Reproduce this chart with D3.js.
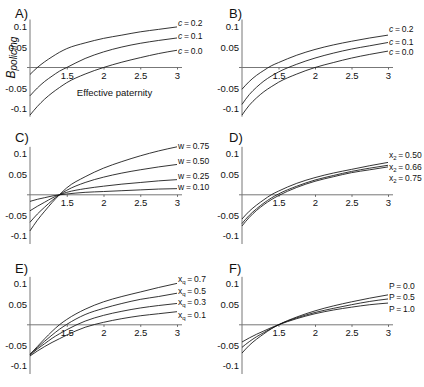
<!DOCTYPE html>
<html>
<head>
<meta charset="utf-8">
<script src="https://cdn.jsdelivr.net/npm/d3@7"></script>
<style>
  body { margin: 0; background: #fff; }
  svg text { font-family: "Liberation Sans", Arial, Helvetica, sans-serif; fill: #111; }
</style>
</head>
<body>
<svg id="svg" width="424" height="387"></svg>
<script>
var pat = [1, 1.1, 1.2, 1.3, 1.4, 1.5, 1.75, 2, 2.25, 2.5, 2.75, 3];
var xTickVals = [1.5, 2, 2.5, 3];
var yTickVals = [-0.1, -0.05, 0.05, 0.1];

// A) and B): c = 0.2, 0.1, 0.0
var cLabels = ["0.2", "0.1", "0.0"];
var seriesA = [
    [-0.017, 0, 0.014, 0.026, 0.037, 0.046, 0.060, 0.071, 0.079, 0.087, 0.093, 0.099],
    [-0.069, -0.050, -0.034, -0.021, -0.009, 0, 0.022, 0.038, 0.050, 0.059, 0.066, 0.072],
    [-0.116, -0.095, -0.077, -0.062, -0.049, -0.037, -0.016, 0, 0.013, 0.024, 0.034, 0.042]
];
var seriesB = [
    [-0.053, -0.034, -0.019, -0.007, 0.004, 0.012, 0.030, 0.044, 0.055, 0.064, 0.072, 0.079],
    [-0.090, -0.066, -0.048, -0.033, -0.021, -0.011, 0.008, 0.023, 0.035, 0.045, 0.053, 0.061],
    [-0.116, -0.092, -0.074, -0.059, -0.047, -0.036, -0.016, 0, 0.012, 0.023, 0.032, 0.040]
];

// C): w = 0.75 .. 0.10
var wLabels = ["0.75", "0.50", "0.25", "0.10"];
var seriesC = [
    [-0.088, -0.062, -0.040, -0.019, 0, 0.017, 0.044, 0.065, 0.081, 0.095, 0.107, 0.117],
    [-0.067, -0.047, -0.030, -0.014, 0, 0.011, 0.030, 0.043, 0.053, 0.061, 0.068, 0.074],
    [-0.039, -0.028, -0.018, -0.008, 0, 0.006, 0.015, 0.021, 0.026, 0.030, 0.034, 0.037],
    [-0.016, -0.011, -0.007, -0.003, 0, 0.002, 0.006, 0.008, 0.010, 0.012, 0.014, 0.015]
];

// D): x2 = 0.50, 0.66, 0.75
var x2Labels = ["0.50", "0.66", "0.75"];
var seriesD = [
    [-0.059, -0.040, -0.025, -0.012, 0, 0.009, 0.028, 0.042, 0.053, 0.062, 0.071, 0.079],
    [-0.070, -0.050, -0.034, -0.020, -0.008, 0.002, 0.021, 0.036, 0.047, 0.057, 0.065, 0.072],
    [-0.076, -0.055, -0.038, -0.024, -0.012, -0.002, 0.018, 0.033, 0.044, 0.054, 0.061, 0.068]
];

// E): xq = 0.7 .. 0.1
var xqLabels = ["0.7", "0.5", "0.3", "0.1"];
var seriesE = [
    [-0.072, -0.053, -0.034, -0.016, 0, 0.013, 0.038, 0.056, 0.069, 0.080, 0.091, 0.101],
    [-0.072, -0.056, -0.040, -0.025, -0.011, 0.001, 0.025, 0.040, 0.052, 0.062, 0.069, 0.077],
    [-0.074, -0.059, -0.046, -0.033, -0.022, -0.012, 0.009, 0.023, 0.033, 0.041, 0.047, 0.052],
    [-0.076, -0.064, -0.053, -0.043, -0.034, -0.025, -0.006, 0.006, 0.015, 0.022, 0.027, 0.032]
];

// F): P = 0.0, 0.5, 1.0
var pLabels = ["0.0", "0.5", "1.0"];
var seriesF = [
    [-0.069, -0.050, -0.035, -0.022, -0.010, 0, 0.019, 0.034, 0.046, 0.056, 0.065, 0.073],
    [-0.055, -0.041, -0.029, -0.019, -0.009, 0, 0.017, 0.030, 0.040, 0.049, 0.057, 0.063],
    [-0.042, -0.032, -0.023, -0.015, -0.007, 0, 0.015, 0.027, 0.036, 0.043, 0.049, 0.053]
];

var svg = d3.select("#svg");

// layout
var colRange = [[30, 177], [242, 388]],
    rowZero = [67.5, 194.8, 324.8],
    letterX = [15, 229],
    letterY = [18, 142, 273],
    pxPerUnit = 410,
    yDomain = [-0.12, 0.117];

var panels = [
    { name: "A)", col: 0, row: 0, sym: "c", italic: true, labels: cLabels, vals: seriesA, dy: [-3.4, -1.8, 0.6], xlab: true },
    { name: "B)", col: 1, row: 0, sym: "c", italic: true, labels: cLabels, vals: seriesB, dy: [-5.6, -0.6, 1.4] },
    { name: "C)", col: 0, row: 1, sym: "w", labels: wLabels, vals: seriesC, dy: [-1.2, -3.3, -3.3, -1.3] },
    { name: "D)", col: 1, row: 1, sym: "x", sub: "2", labels: x2Labels, vals: seriesD, dy: [-7, 1.7, 11] },
    { name: "E)", col: 0, row: 2, sym: "x", sub: "q", labels: xqLabels, vals: seriesE, dy: [-4, -2, -1, 3.6] },
    { name: "F)", col: 1, row: 2, sym: "P", labels: pLabels, vals: seriesF, dy: [-8.6, -1.8, 6.4] }
];

panels.forEach(function (p) {
    var zero = rowZero[p.row];
    var x = d3.scaleLinear().domain([1, 3]).range(colRange[p.col]);
    var y = d3.scaleLinear().domain(yDomain)
        .range([zero - yDomain[0] * pxPerUnit, zero - yDomain[1] * pxPerUnit]);

    var g = svg.append("g");

    // x axis
    g.append("line")
        .attr("x1", x(1) - 3).attr("x2", x(3) + 5)
        .attr("y1", y(0)).attr("y2", y(0))
        .attr("stroke", "#777").attr("stroke-width", 1);
    var xa = g.append("g")
        .attr("transform", "translate(0," + y(0) + ")")
        .call(d3.axisBottom(x).tickValues(xTickVals).tickSize(2).tickPadding(2.5)
            .tickFormat(function (d) { return String(d); }));
    xa.select(".domain").remove();

    // y axis
    g.append("line")
        .attr("x1", x(1)).attr("x2", x(1))
        .attr("y1", y(yDomain[1])).attr("y2", y(yDomain[0]))
        .attr("stroke", "#777").attr("stroke-width", 1);
    var ya = g.append("g")
        .attr("transform", "translate(" + x(1) + ",0)")
        .call(d3.axisLeft(y).tickValues(yTickVals).tickSize(0).tickPadding(3)
            .tickFormat(function (d) { return String(d); }));
    ya.select(".domain").remove();

    g.selectAll(".tick line").attr("stroke", "#666");
    g.selectAll(".tick text")
        .attr("font-family", "Liberation Sans, Arial, sans-serif")
        .attr("font-size", 9.5).attr("fill", "#222");

    // curves
    var line = d3.line()
        .x(function (d) { return x(d[0]); })
        .y(function (d) { return y(d[1]); })
        .curve(d3.curveMonotoneX);

    p.vals.forEach(function (vals, i) {
        var pts = pat.map(function (t, j) { return [t, vals[j]]; });
        g.append("path")
            .attr("d", line(pts))
            .attr("fill", "none")
            .attr("stroke", "#111")
            .attr("stroke-width", 0.85);

        var t = g.append("text")
            .attr("x", x(3) + 1)
            .attr("y", y(vals[vals.length - 1]) + p.dy[i])
            .attr("dy", "0.35em")
            .attr("font-size", 8.5)
            .attr("word-spacing", -0.6);
        t.append("tspan").text(p.sym)
            .attr("font-style", p.italic ? "italic" : null);
        if (p.sub) {
            t.append("tspan").text(p.sub).attr("font-size", 6).attr("dy", 2);
            t.append("tspan").text(" = " + p.labels[i]).attr("dy", -2);
        } else {
            t.append("tspan").text(" = " + p.labels[i]);
        }
    });

    // panel letter
    svg.append("text")
        .attr("x", letterX[p.col]).attr("y", letterY[p.row])
        .attr("font-size", 13)
        .text(p.name);

    if (p.xlab) {
        g.append("text")
            .attr("x", 114.5).attr("y", zero + 28)
            .attr("text-anchor", "middle")
            .attr("font-size", 9.5)
            .text("Effective paternity");

        // B_policing, read bottom to top, B at the bottom
        var yl = g.append("text")
            .attr("transform", "translate(15," + (zero + 11) + ") rotate(-90)")
            .attr("text-anchor", "start");
        yl.append("tspan").text("B").attr("font-style", "italic").attr("font-size", 12);
        yl.append("tspan").text("policing").attr("font-style", "italic")
            .attr("font-size", 10).attr("dy", 1.5);
    }
});
</script>
</body>
</html>
